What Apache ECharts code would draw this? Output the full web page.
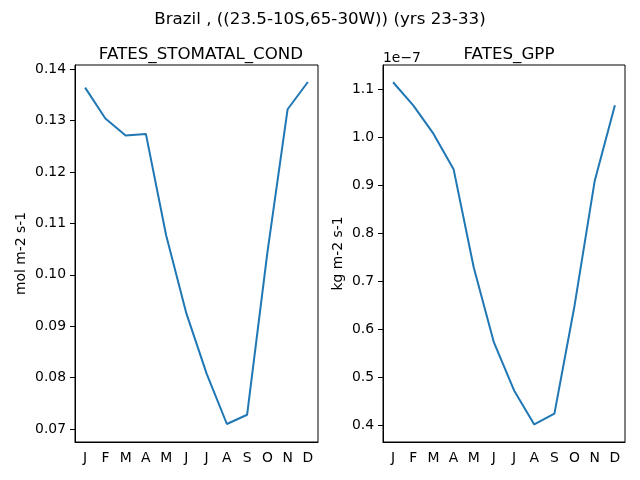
<!DOCTYPE html>
<html>
<head>
<meta charset="utf-8">
<script src="https://cdn.jsdelivr.net/npm/echarts@6/dist/echarts.min.js"></script>
<style>
  html, body { margin: 0; padding: 0; background: #fff; }
  #chart { width: 640px; height: 480px; }
</style>
</head>
<body>
<div id="chart"></div>
<script>
// month labels
var months = ['J', 'F', 'M', 'A', 'M', 'J', 'J', 'A', 'S', 'O', 'N', 'D'];
// FATES_STOMATAL_COND, mol m-2 s-1
var stomatalCond = [0.1364, 0.1304, 0.1271, 0.1274, 0.1077, 0.0925, 0.0808, 0.0710, 0.0728, 0.1043, 0.1322, 0.1375];
// FATES_GPP, kg m-2 s-1, in units of 1e-7
var gppE7 = [1.114, 1.066, 1.007, 0.933, 0.728, 0.572, 0.472, 0.401, 0.4235, 0.649, 0.909, 1.066];

var font = 'DejaVu Sans';
var lineColor = '#1f77b4';

function xAxisCfg(idx) {
    return {
        type: 'category',
        gridIndex: idx,
        data: months,
        boundaryGap: true,
        axisLine: { lineStyle: { color: '#000', width: 1 } },
        axisTick: { alignWithLabel: true, length: 5, lineStyle: { color: '#000' } },
        axisLabel: { color: '#000', fontFamily: font, fontSize: 13.9, margin: 9, interval: 0 },
        splitLine: { show: false }
    };
}
function yAxisCfg(idx, min, max, split, digits, name, gap) {
    return {
        type: 'value',
        gridIndex: idx,
        min: min,
        max: max,
        splitNumber: split,
        name: name,
        nameLocation: 'middle',
        nameGap: gap,
        nameTextStyle: { color: '#000', fontFamily: font, fontSize: 13.9 },
        axisLine: { show: true, lineStyle: { color: '#000', width: 1 } },
        axisTick: { show: true, length: 5, lineStyle: { color: '#000' } },
        axisLabel: {
            color: '#000', fontFamily: font, fontSize: 13.9, margin: 9,
            showMinLabel: false, showMaxLabel: false,
            formatter: function (v) { return v.toFixed(digits); }
        },
        splitLine: { show: false }
    };
}

var option = {
    backgroundColor: '#fff',
    animation: false,
    title: [
        { text: 'Brazil , ((23.5-10S,65-30W)) (yrs 23-33)', left: 'center', top: 6,
          textStyle: { fontFamily: font, fontSize: 16.7, fontWeight: 'normal', color: '#000' } },
        { text: 'FATES_STOMATAL_COND', left: 196, top: 41, textAlign: 'center',
          textStyle: { fontFamily: font, fontSize: 16.7, fontWeight: 'normal', color: '#000' } },
        { text: 'FATES_GPP', left: 504, top: 41, textAlign: 'center',
          textStyle: { fontFamily: font, fontSize: 16.7, fontWeight: 'normal', color: '#000' } },
        { text: '1e\u22127', left: 378, top: 46,
          textStyle: { fontFamily: font, fontSize: 13.9, fontWeight: 'normal', color: '#000' } }
    ],
    grid: [
        { left: 75, right: 322, top: 65, bottom: 38, show: true, borderColor: '#000', borderWidth: 1 },
        { left: 383, right: 15, top: 65, bottom: 38, show: true, borderColor: '#000', borderWidth: 1 }
    ],
    xAxis: [xAxisCfg(0), xAxisCfg(1)],
    yAxis: [
        yAxisCfg(0, 0.0675, 0.1408, 7, 2, 'mol m-2 s-1', 47),
        yAxisCfg(1, 0.3645, 1.150, 8, 1, 'kg m-2 s-1', 38)
    ],
    series: [
        { type: 'line', xAxisIndex: 0, yAxisIndex: 0, data: stomatalCond, showSymbol: false,
          lineStyle: { color: lineColor, width: 2 }, itemStyle: { color: lineColor } },
        { type: 'line', xAxisIndex: 1, yAxisIndex: 1, data: gppE7, showSymbol: false,
          lineStyle: { color: lineColor, width: 2 }, itemStyle: { color: lineColor } }
    ]
};

var chart = echarts.init(document.getElementById('chart'));
chart.setOption(option);
</script>
</body>
</html>
